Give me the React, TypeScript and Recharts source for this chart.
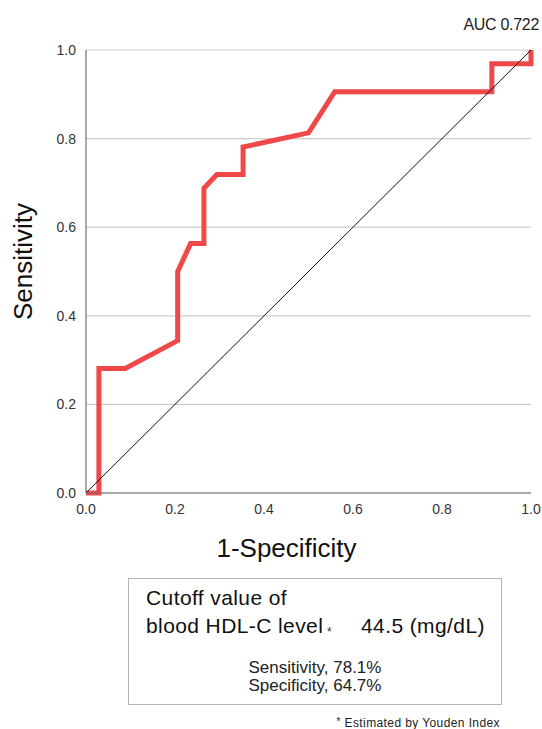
import { LineChart, Line, XAxis, YAxis, CartesianGrid, Label } from 'recharts'

// ROC curve points (1-specificity, sensitivity)
const fpr = [0, 0.029, 0.029, 0.088, 0.206, 0.206, 0.235, 0.265, 0.265, 0.294, 0.353, 0.353, 0.5, 0.559, 0.912, 0.912, 1, 1]
const tpr = [0, 0, 0.281, 0.281, 0.344, 0.5, 0.563, 0.563, 0.688, 0.719, 0.719, 0.781, 0.813, 0.906, 0.906, 0.969, 0.969, 1]
const refX = [0, 1]
const refY = [0, 1]
const axisTicks = [0, 0.2, 0.4, 0.6, 0.8, 1]

const aucText = 'AUC 0.722'
const cutoffLabel = ['Cutoff value of', 'blood HDL-C level']
const cutoffValue = '44.5 (mg/dL)'
const statLines = ['Sensitivity, 78.1%', 'Specificity, 64.7%']
const footnote = 'Estimated by Youden Index'

const rocData = fpr.map((x, i) => ({ x, y: tpr[i] }))
const refData = refX.map((x, i) => ({ x, y: refY[i] }))

const FONT = '"Liberation Sans", Arial, Helvetica, sans-serif'

export default function App() {
  return (
    <div style={{ position: 'absolute', left: 0, top: 0, width: 542, height: 729, background: '#fff', fontFamily: FONT }}>
      <LineChart width={542} height={570} margin={{ top: 50, right: 11, left: 0, bottom: 0 }}>
        <CartesianGrid vertical={false} stroke="#cccccc" strokeWidth={1.2} />
        <XAxis
          type="number"
          dataKey="x"
          domain={[0, 1]}
          ticks={axisTicks}
          tickFormatter={(v: number) => v.toFixed(1)}
          height={77}
          tickLine={false}
          tickMargin={5}
          axisLine={{ stroke: '#707070', strokeWidth: 1.2 }}
          tick={{ fill: '#333', fontSize: 14, fontFamily: FONT }}
        >
          <Label
            content={({ viewBox }: any) => (
              <text
                x={viewBox.x + viewBox.width / 2 - 22}
                y={viewBox.y + 64}
                textAnchor="middle"
                fontSize={26}
                fontFamily={FONT}
                fill="#111"
              >
                1-Specificity
              </text>
            )}
          />
        </XAxis>
        <YAxis
          type="number"
          dataKey="y"
          domain={[0, 1]}
          ticks={axisTicks}
          tickFormatter={(v: number) => v.toFixed(1)}
          width={86}
          tickLine={false}
          tickMargin={4}
          axisLine={{ stroke: '#707070', strokeWidth: 1.2 }}
          tick={{ fill: '#333', fontSize: 14, fontFamily: FONT }}
        >
          <Label
            content={({ viewBox }: any) => {
              const cx = viewBox.x + 32
              const cy = viewBox.y + viewBox.height / 2 - 10
              return (
                <text
                  x={cx}
                  y={cy}
                  transform={`rotate(-90 ${cx} ${cy})`}
                  textAnchor="middle"
                  fontSize={26}
                  fontFamily={FONT}
                  fill="#111"
                >
                  Sensitivity
                </text>
              )
            }}
          />
        </YAxis>
        <Line
          data={rocData}
          dataKey="y"
          type="linear"
          stroke="#f04848"
          strokeWidth={5}
          dot={false}
          activeDot={false}
          isAnimationActive={false}
        />
        <Line
          data={refData}
          dataKey="y"
          type="linear"
          stroke="#111"
          strokeWidth={1}
          dot={false}
          activeDot={false}
          isAnimationActive={false}
        />
      </LineChart>

      <svg width={542} height={729} style={{ position: 'absolute', left: 0, top: 0, pointerEvents: 'none' }}>
        <text x={539} y={30} textAnchor="end" fontSize={16} fontFamily={FONT} fill="#222" letterSpacing={-0.3}>
          {aucText}
        </text>
        <rect x={128.5} y={578.5} width={373} height={126} fill="none" stroke="#b4b4b4" strokeWidth={1} />
        <text x={146} y={605} fontSize={21} fontFamily={FONT} fill="#111" letterSpacing={0.4}>
          {cutoffLabel[0]}
        </text>
        <text x={146} y={633} fontSize={21} fontFamily={FONT} fill="#111" letterSpacing={0.4}>
          {cutoffLabel[1]}
        </text>
        <text x={327} y={636} fontSize={12} fontFamily={FONT} fill="#333">*</text>
        <text x={361} y={633} fontSize={21} fontFamily={FONT} fill="#111" letterSpacing={0.4}>
          {cutoffValue}
        </text>
        <text x={315} y={673} textAnchor="middle" fontSize={17} fontFamily={FONT} fill="#222">
          {statLines[0]}
        </text>
        <text x={315} y={691} textAnchor="middle" fontSize={17} fontFamily={FONT} fill="#222">
          {statLines[1]}
        </text>
        <text x={500} y={727} textAnchor="end" fontSize={12} fontFamily={FONT} fill="#222" letterSpacing={0.4}>
          <tspan fontSize={10} dy={-2}>*</tspan>
          <tspan dy={2}> {footnote}</tspan>
        </text>
      </svg>
    </div>
  )
}
